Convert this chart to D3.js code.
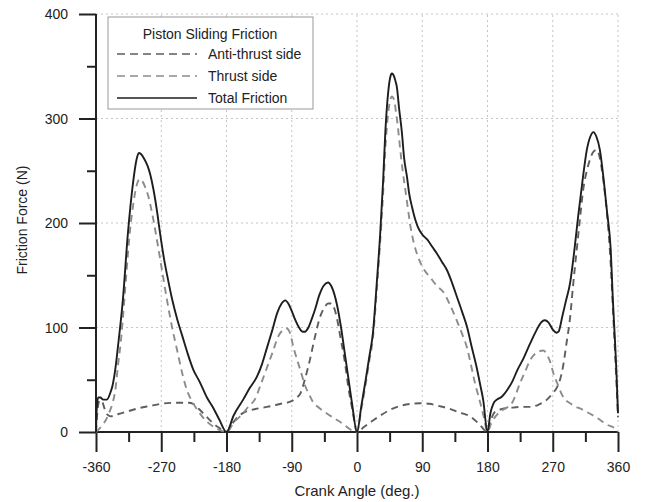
<!DOCTYPE html>
<html>
<head>
<meta charset="utf-8">
<script src="https://cdn.jsdelivr.net/npm/d3@7.9.0/dist/d3.min.js"></script>
<style>
  body { margin: 0; background: #fff; }
  text { font-family: "Liberation Sans", Arial, sans-serif; fill: #222; }
</style>
</head>
<body>
<svg id="chart" width="645" height="502"></svg>
<script>
// crank angle (deg) / friction force (N)
const totalFriction = [
  [-360,0],[-359,22],[-357,33],[-354,33],[-350,31],[-345,31],[-340,38],[-337,45],[-333,62],[-330,80],
  [-323,126],[-316,190],[-309,238],[-304,261],[-301,267],[-298,266],[-294,262],[-291,258],[-288,253],
  [-285,246],[-281,233],[-276,212],[-272,192],[-266,165],[-261,147],[-255,127],[-248,108],[-241,92],
  [-234,76],[-226,60],[-217,48],[-207,33],[-199,24],[-190,12],[-180,0],
  [-170,16],[-157,31],[-148,42],[-138,53],[-131,65],[-124,81],[-117,97],[-110,114],[-104,123],[-99,126],
  [-94,122],[-89,114],[-85,107],[-80,100],[-75,96],[-72,96],[-67,100],[-62,109],[-58,117],[-52,131],
  [-46,140],[-40,143],[-35,139],[-28,123],[-22,100],[-17,76],[-12,52],[-7,28],[0,0],
  [6,25],[12,50],[17,72],[22,95],[27,140],[32,190],[36,240],[39,286],[43,325],[46,340],[48,343],[50,342],
  [53,336],[55,330],[58,310],[62,286],[65,262],[69,244],[72,228],[76,215],[80,204],[84,196],[90,189],
  [97,184],[104,177],[110,171],[117,163],[124,155],[131,143],[138,129],[145,115],[152,100],[158,82],
  [165,62],[170,45],[174,31],[180,0],
  [184,18],[188,27],[193,31],[200,34],[207,40],[214,48],[221,59],[230,71],[239,85],[248,98],[254,105],
  [259,107],[264,105],[270,98],[275,95],[278,96],[283,110],[288,125],[294,143],[300,175],[305,206],
  [311,240],[317,270],[322,283],[326,287],[330,283],[335,270],[340,243],[345,210],[350,174],[353,125],
  [356,85],[358,55],[360,18]
];

const antiThrust = [
  [-360,0],[-358,20],[-355,30],[-352,30],[-349,24],[-345,17],[-340,15],[-330,17],[-315,20],[-300,23],
  [-285,25],[-270,27],[-250,28],[-232,28],[-226,27],[-218,22],[-208,15],[-198,8],[-188,3],[-180,0],
  [-172,8],[-165,14],[-155,19],[-140,22],[-124,24],[-105,27],[-92,29],[-83,33],[-78,37],[-72,50],
  [-65,69],[-58,91],[-51,110],[-45,119],[-40,123],[-36,123],[-33,121],[-28,110],[-23,91],[-17,68],
  [-12,43],[-6,20],[0,0],
  [10,5],[22,11],[35,17],[45,21],[60,25],[75,27],[87,27.5],[100,27],[112,25],[124,23],[140,19],
  [156,15],[168,8],[180,0],
  [185,12],[190,19],[200,22],[211,23],[225,24],[239,24],[250,26],[262,31],[270,37],[276,43],[280,50],
  [284,62],[289,85],[294,110],[298,140],[303,174],[308,207],[312,232],[317,250],[321,260],[326,268],
  [331,270],[335,262],[338,250],[342,228],[346,200],[350,160],[353,118],[356,75],[358,45],[360,14]
];

const thrustSide = [
  [-360,0],[-352,6],[-346,12],[-341,20],[-337,28],[-333,42],[-330,62],[-326,85],[-323,108],[-320,135],
  [-316,170],[-312,200],[-309,216],[-304,236],[-300,242],[-296,240],[-292,234],[-288,226],[-284,214],
  [-280,200],[-276,184],[-269,155],[-262,126],[-255,100],[-248,78],[-241,56],[-234,39],[-228,30],
  [-220,21],[-210,12],[-200,6],[-190,2],[-180,0],
  [-170,9],[-157,18],[-149,25],[-141,31],[-133,45],[-124,62],[-116,77],[-109,91],[-103,97],[-97,99],
  [-92,94],[-88,82],[-83,70],[-78,59],[-72,45],[-66,36],[-61,29],[-52,23],[-42,18],[-24,10],[0,0],
  [6,22],[12,46],[17,68],[22,90],[27,133],[32,182],[36,228],[39,270],[43,305],[46,318],[48,321],[51,318],
  [54,305],[57,288],[60,268],[63,250],[66,235],[70,215],[73,200],[78,182],[84,168],[92,156],[101,148],
  [110,140],[119,134],[128,122],[138,106],[146,92],[152,80],[156,68],[163,46],[170,28],[175,14],[180,0],
  [185,8],[190,14],[201,21],[214,28],[225,47],[232,58],[239,69],[248,76],[257,78],[262,74],[266,68],
  [271,56],[276,47],[284,34],[295,27],[312,21],[330,14],[345,7],[358,2],[360,0]
];

const xTicks = [-360, -270, -180, -90, 0, 90, 180, 270, 360];
const yTicks = [0, 100, 200, 300, 400];
const legendTitle = "Piston Sliding Friction";
const seriesNames = ["Anti-thrust side", "Thrust side", "Total Friction"];

const svg = d3.select("#chart");

const x = d3.scaleLinear().domain([-360, 360]).range([96, 618]);
const y = d3.scaleLinear().domain([0, 400]).range([432, 14]);

// dotted grid
const grid = svg.append("g").attr("stroke", "#c4c4c4").attr("stroke-width", 1).attr("stroke-dasharray", "2,3");
xTicks.filter(d => d > -360).forEach(d => {
  grid.append("line").attr("x1", x(d)).attr("x2", x(d)).attr("y1", y(0)).attr("y2", y(400));
});
yTicks.filter(d => d > 0).forEach(d => {
  grid.append("line").attr("x1", x(-360)).attr("x2", x(360)).attr("y1", y(d)).attr("y2", y(d));
});

// Axes
const xAxis = svg.append("g")
  .attr("transform", `translate(0,${y(0)})`)
  .call(d3.axisBottom(x).tickValues(d3.range(-360, 361, 45)).tickSize(10).tickFormat(""));
xAxis.selectAll(".tick line").filter(d => d % 90 === 0).attr("y2", 20);
xAxis.selectAll(".tick").filter(d => d % 90 === 0).append("text")
  .attr("y", 40).attr("text-anchor", "middle").attr("font-size", 14).text(d => d);

const yAxis = svg.append("g")
  .attr("transform", `translate(${x(-360)},0)`)
  .call(d3.axisLeft(y).tickValues(d3.range(0, 401, 50)).tickSize(9).tickFormat(""));
yAxis.selectAll(".tick line").filter(d => d % 100 === 0).attr("x2", -17);
yAxis.selectAll(".tick").filter(d => d % 100 === 0).append("text")
  .attr("x", -28).attr("dy", "0.35em").attr("text-anchor", "end").attr("font-size", 14).text(d => d);

[xAxis, yAxis].forEach(a => {
  a.select(".domain").attr("stroke", "#222").attr("stroke-width", 2).attr("d", null);
  a.selectAll(".tick line").attr("stroke", "#222").attr("stroke-width", 2);
});
xAxis.select(".domain").attr("d", `M${x(-360)},0H${x(360)}`);
yAxis.select(".domain").attr("d", `M0,${y(0)}V${y(400)}`);

// Axis labels
svg.append("text")
  .attr("text-anchor", "middle")
  .attr("x", x(0))
  .attr("y", 496)
  .attr("font-size", 15)
  .text("Crank Angle (deg.)");

svg.append("text")
  .attr("text-anchor", "middle")
  .attr("transform", "rotate(-90)")
  .attr("x", -220)
  .attr("y", 27)
  .attr("font-size", 14)
  .text("Friction Force (N)");

// Lines
const line = d3.line()
  .x(d => x(d[0]))
  .y(d => y(d[1]))
  .curve(d3.curveMonotoneX);

const styles = [
  { data: antiThrust, stroke: "#5e5e5e", dash: "7,5" },
  { data: thrustSide, stroke: "#8c8c8c", dash: "7,5" },
  { data: totalFriction, stroke: "#1e1e1e", dash: null }
];

styles.forEach(s => {
  svg.append("path")
    .datum(s.data)
    .attr("fill", "none")
    .attr("stroke", s.stroke)
    .attr("stroke-width", 1.9)
    .attr("stroke-dasharray", s.dash)
    .attr("stroke-linejoin", "round")
    .attr("d", line);
});

// Legend
const legend = svg.append("g").attr("transform", "translate(108,17)");
legend.append("rect")
  .attr("width", 205).attr("height", 92)
  .attr("fill", "#fff").attr("stroke", "#999").attr("stroke-width", 1);
legend.append("text")
  .attr("x", 102).attr("y", 22)
  .attr("text-anchor", "middle").attr("font-size", 14)
  .text(legendTitle);

styles.forEach((s, i) => {
  const cy = 37 + i * 22;
  legend.append("line")
    .attr("x1", 9).attr("x2", 89).attr("y1", cy).attr("y2", cy)
    .attr("stroke", s.stroke).attr("stroke-width", 1.6)
    .attr("stroke-dasharray", s.dash ? "8,5" : null);
  legend.append("text")
    .attr("x", 100).attr("y", cy).attr("dy", "0.35em")
    .attr("font-size", 14)
    .text(seriesNames[i]);
});
</script>
</body>
</html>
